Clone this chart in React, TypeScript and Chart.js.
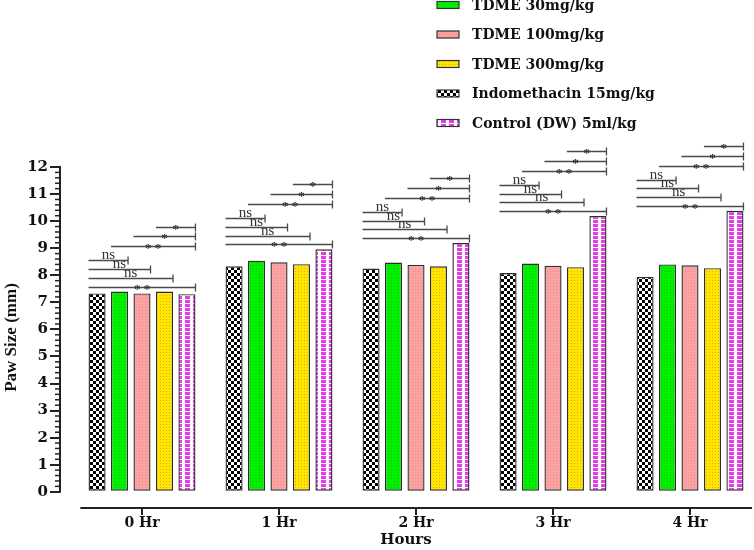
import React, { useEffect, useRef } from "react";
import { Chart, registerables } from "chart.js";

Chart.register(...registerables);

// ---------- data ----------
const hourLabels = ["0 Hr", "1 Hr", "2 Hr", "3 Hr", "4 Hr"];
const seriesNames = [
  "Indomethacin 15mg/kg",
  "TDME 30mg/kg",
  "TDME 100mg/kg",
  "TDME 300mg/kg",
  "Control (DW) 5ml/kg",
];
const indomethacin = [7.33, 8.33, 8.25, 8.08, 7.94];
const tdme30 = [7.4, 8.54, 8.47, 8.43, 8.4];
const tdme100 = [7.33, 8.48, 8.38, 8.35, 8.37];
const tdme300 = [7.4, 8.41, 8.33, 8.3, 8.26];
const control = [7.3, 8.96, 9.19, 10.19, 10.38];
const legendOrder = [1, 2, 3, 0, 4];
const yTickValues = [0, 1, 2, 3, 4, 5, 6, 7, 8, 9, 10, 11, 12];
// significance vs Indomethacin for TDME30, TDME100, TDME300, Control
const vsIndomethacin = ["ns", "ns", "ns", "**"];
// significance vs Control for TDME30, TDME100, TDME300
const vsControl = ["**", "*", "*"];

const allSeries = [indomethacin, tdme30, tdme100, tdme300, control];

// ---------- patterns ----------
function makePattern(w: number, h: number, draw: (c: CanvasRenderingContext2D) => void) {
  const cv = document.createElement("canvas");
  cv.width = w;
  cv.height = h;
  const c = cv.getContext("2d")!;
  draw(c);
  const ctx = document.createElement("canvas").getContext("2d")!;
  return ctx.createPattern(cv, "repeat")!;
}

function buildPatterns() {
  const checker = makePattern(6, 6, (c) => {
    c.fillStyle = "#ffffff";
    c.fillRect(0, 0, 6, 6);
    c.fillStyle = "#000000";
    c.fillRect(0, 0, 3, 3);
    c.fillRect(3, 3, 3, 3);
  });
  const dotted = (base: string, dot: string) =>
    makePattern(3, 3, (c) => {
      c.fillStyle = base;
      c.fillRect(0, 0, 3, 3);
      c.fillStyle = dot;
      c.fillRect(1, 1, 1, 1);
    });
  const green = dotted("#00f000", "#00cc00");
  const pink = dotted("#fba3a3", "#ee8c8c");
  const yellow = dotted("#ffe600", "#f0a800");
  const magenta = makePattern(8, 4, (c) => {
    c.fillStyle = "#ffffff";
    c.fillRect(0, 0, 8, 4);
    c.fillStyle = "#e23fe6";
    c.fillRect(1, 0, 5, 3);
  });
  return [checker, green, pink, yellow, magenta];
}

// ---------- plugins ----------
const axesPlugin = {
  id: "customAxes",
  afterDraw(chart: any) {
    const { ctx, chartArea, scales } = chart;
    const y = scales.y;
    const x = scales.x;
    ctx.save();
    ctx.strokeStyle = "#222";
    ctx.lineWidth = 2;
    // y axis line 0..12
    ctx.beginPath();
    ctx.moveTo(chartArea.left, y.getPixelForValue(0) + 1);
    ctx.lineTo(chartArea.left, y.getPixelForValue(12) - 1);
    ctx.stroke();
    // minor ticks
    ctx.lineWidth = 1.5;
    for (let i = 0; i <= 60; i++) {
      if (i % 5 === 0) continue;
      const py = y.getPixelForValue(i / 5);
      ctx.beginPath();
      ctx.moveTo(chartArea.left - 5, py);
      ctx.lineTo(chartArea.left, py);
      ctx.stroke();
    }
    // x axis line (offset below plot)
    const axisY = chartArea.bottom;
    ctx.lineWidth = 2;
    ctx.beginPath();
    ctx.moveTo(x.getPixelForValue(-0.45), axisY);
    ctx.lineTo(chartArea.right, axisY);
    ctx.stroke();
    // x tick marks at category centres
    for (let i = 0; i < hourLabels.length; i++) {
      const px = Math.round(x.getPixelForValue(i));
      ctx.beginPath();
      ctx.moveTo(px, axisY);
      ctx.lineTo(px, axisY + 7);
      ctx.stroke();
    }
    ctx.restore();
  },
};

const bracketPlugin = {
  id: "brackets",
  afterDatasetsDraw(chart: any) {
    const { ctx, scales } = chart;
    const y = scales.y;
    const metas = allSeries.map((_, i) => chart.getDatasetMeta(i));
    ctx.save();
    ctx.strokeStyle = "#4a4a4a";
    ctx.fillStyle = "#333";
    ctx.lineWidth = 1.3;
    const drawBracket = (x1: number, x2: number, value: number, label: string) => {
      const py = Math.round(y.getPixelForValue(value)) + 0.5;
      ctx.beginPath();
      ctx.moveTo(x1, py);
      ctx.lineTo(x2, py);
      ctx.moveTo(x2, py - 4);
      ctx.lineTo(x2, py + 4);
      ctx.stroke();
      ctx.textAlign = "center";
      ctx.textBaseline = "alphabetic";
      const cx = (x1 + x2) / 2;
      if (label === "ns") {
        ctx.font = "15px 'Liberation Serif'";
        ctx.fillText(label, cx, py - 1.5);
      } else {
        ctx.font = "bold 13px 'Liberation Serif'";
        ctx.fillText(label.split("").join(" "), cx, py + 5);
      }
    };
    hourLabels.forEach((_, h) => {
      const bars = metas.map((m: any) => m.data[h]);
      const left = (b: any) => b.x - b.width / 2;
      const right = (b: any) => b.x + b.width / 2;
      const maxV = Math.max(...allSeries.map((s) => s[h]));
      const base = maxV + 0.18;
      vsIndomethacin.forEach((lab, k) => {
        const level = 3 - k;
        drawBracket(left(bars[0]), right(bars[k + 1]), base + level * 0.325, lab);
      });
      vsControl.forEach((lab, j) => {
        drawBracket(left(bars[j + 1]), right(bars[4]), base + 3 * 0.325 + 0.52 + j * 0.36, lab);
      });
    });
    ctx.restore();
  },
};

const legendPlugin = {
  id: "customLegend",
  afterDraw(chart: any) {
    const { ctx } = chart;
    ctx.save();
    ctx.font = "bold 14px 'DejaVu Serif'";
    ctx.textBaseline = "middle";
    ctx.textAlign = "left";
    legendOrder.forEach((dsIndex, row) => {
      const ds = chart.data.datasets[dsIndex];
      const cy = 5 + row * 29.5;
      ctx.fillStyle = ds.backgroundColor;
      ctx.fillRect(437, cy - 3.5, 22, 7);
      ctx.strokeStyle = "#333";
      ctx.lineWidth = 1.2;
      ctx.strokeRect(437, cy - 3.5, 22, 7);
      ctx.fillStyle = "#111";
      ctx.fillText(ds.label, 472, cy + 1);
    });
    ctx.restore();
  },
};

export default function App() {
  const canvasRef = useRef<HTMLCanvasElement | null>(null);

  useEffect(() => {
    document.body.style.margin = "0";
    const canvas = canvasRef.current!;
    const patterns = buildPatterns();
    const pxLeft = 60;
    const pxRight = 752;
    const unit = 137;
    const xMin = -(142 - pxLeft) / unit;
    const xMax = xMin + (pxRight - pxLeft) / unit;

    const chart = new Chart(canvas, {
      type: "bar",
      data: {
        datasets: allSeries.map((s, i) => ({
          label: seriesNames[i],
          data: s.map((v, h) => ({ x: h, y: v })),
          backgroundColor: patterns[i] as any,
          borderColor: "#2e2e2e",
          borderWidth: 1.4,
          borderSkipped: false as any,
          categoryPercentage: 0.82,
          barPercentage: 0.76,
        })),
      },
      options: {
        responsive: false,
        animation: false,
        events: [],
        layout: { padding: { top: 167, right: 754 - pxRight, left: 0, bottom: 0 } },
        plugins: {
          legend: { display: false },
          tooltip: { enabled: false },
        },
        scales: {
          x: {
            type: "linear",
            offset: false,
            min: xMin,
            max: xMax,
            afterBuildTicks: (scale: any) => {
              scale.ticks = hourLabels.map((_, i) => ({ value: i }));
            },
            afterFit: (scale: any) => {
              scale.height = 42;
            },
            ticks: {
              callback: (v: any) => hourLabels[v] ?? "",
              font: { family: "'DejaVu Serif'", weight: "bold", size: 14 },
              color: "#111",
              padding: 7,
              maxRotation: 0,
              autoSkip: false,
            },
            grid: { display: false, drawTicks: false },
            border: { display: false },
            title: {
              display: true,
              text: "Hours",
              font: { family: "'DejaVu Serif'", weight: "bold", size: 15 },
              color: "#111",
              padding: { top: 0, bottom: 1 },
            },
          },
          y: {
            min: -0.6,
            max: 12,
            afterBuildTicks: (scale: any) => {
              scale.ticks = yTickValues.map((v) => ({ value: v }));
            },
            afterFit: (scale: any) => {
              scale.width = 60;
            },
            ticks: {
              font: { family: "'DejaVu Serif'", weight: "bold", size: 15 },
              color: "#111",
              padding: 2,
            },
            grid: {
              display: true,
              drawOnChartArea: false,
              drawTicks: true,
              tickLength: 10,
              color: "#222",
              lineWidth: 2,
            },
            border: { display: false },
            title: {
              display: true,
              text: "Paw Size (mm)",
              font: { family: "'Liberation Serif'", weight: "bold", size: 17 },
              color: "#111",
              padding: { top: 1, bottom: 0 },
            },
          },
        },
      },
      plugins: [axesPlugin, bracketPlugin, legendPlugin],
    } as any);

    return () => chart.destroy();
  }, []);

  return (
    <div style={{ width: 754, height: 550 }}>
      <canvas ref={canvasRef} width={754} height={550} style={{ display: "block" }} />
    </div>
  );
}
